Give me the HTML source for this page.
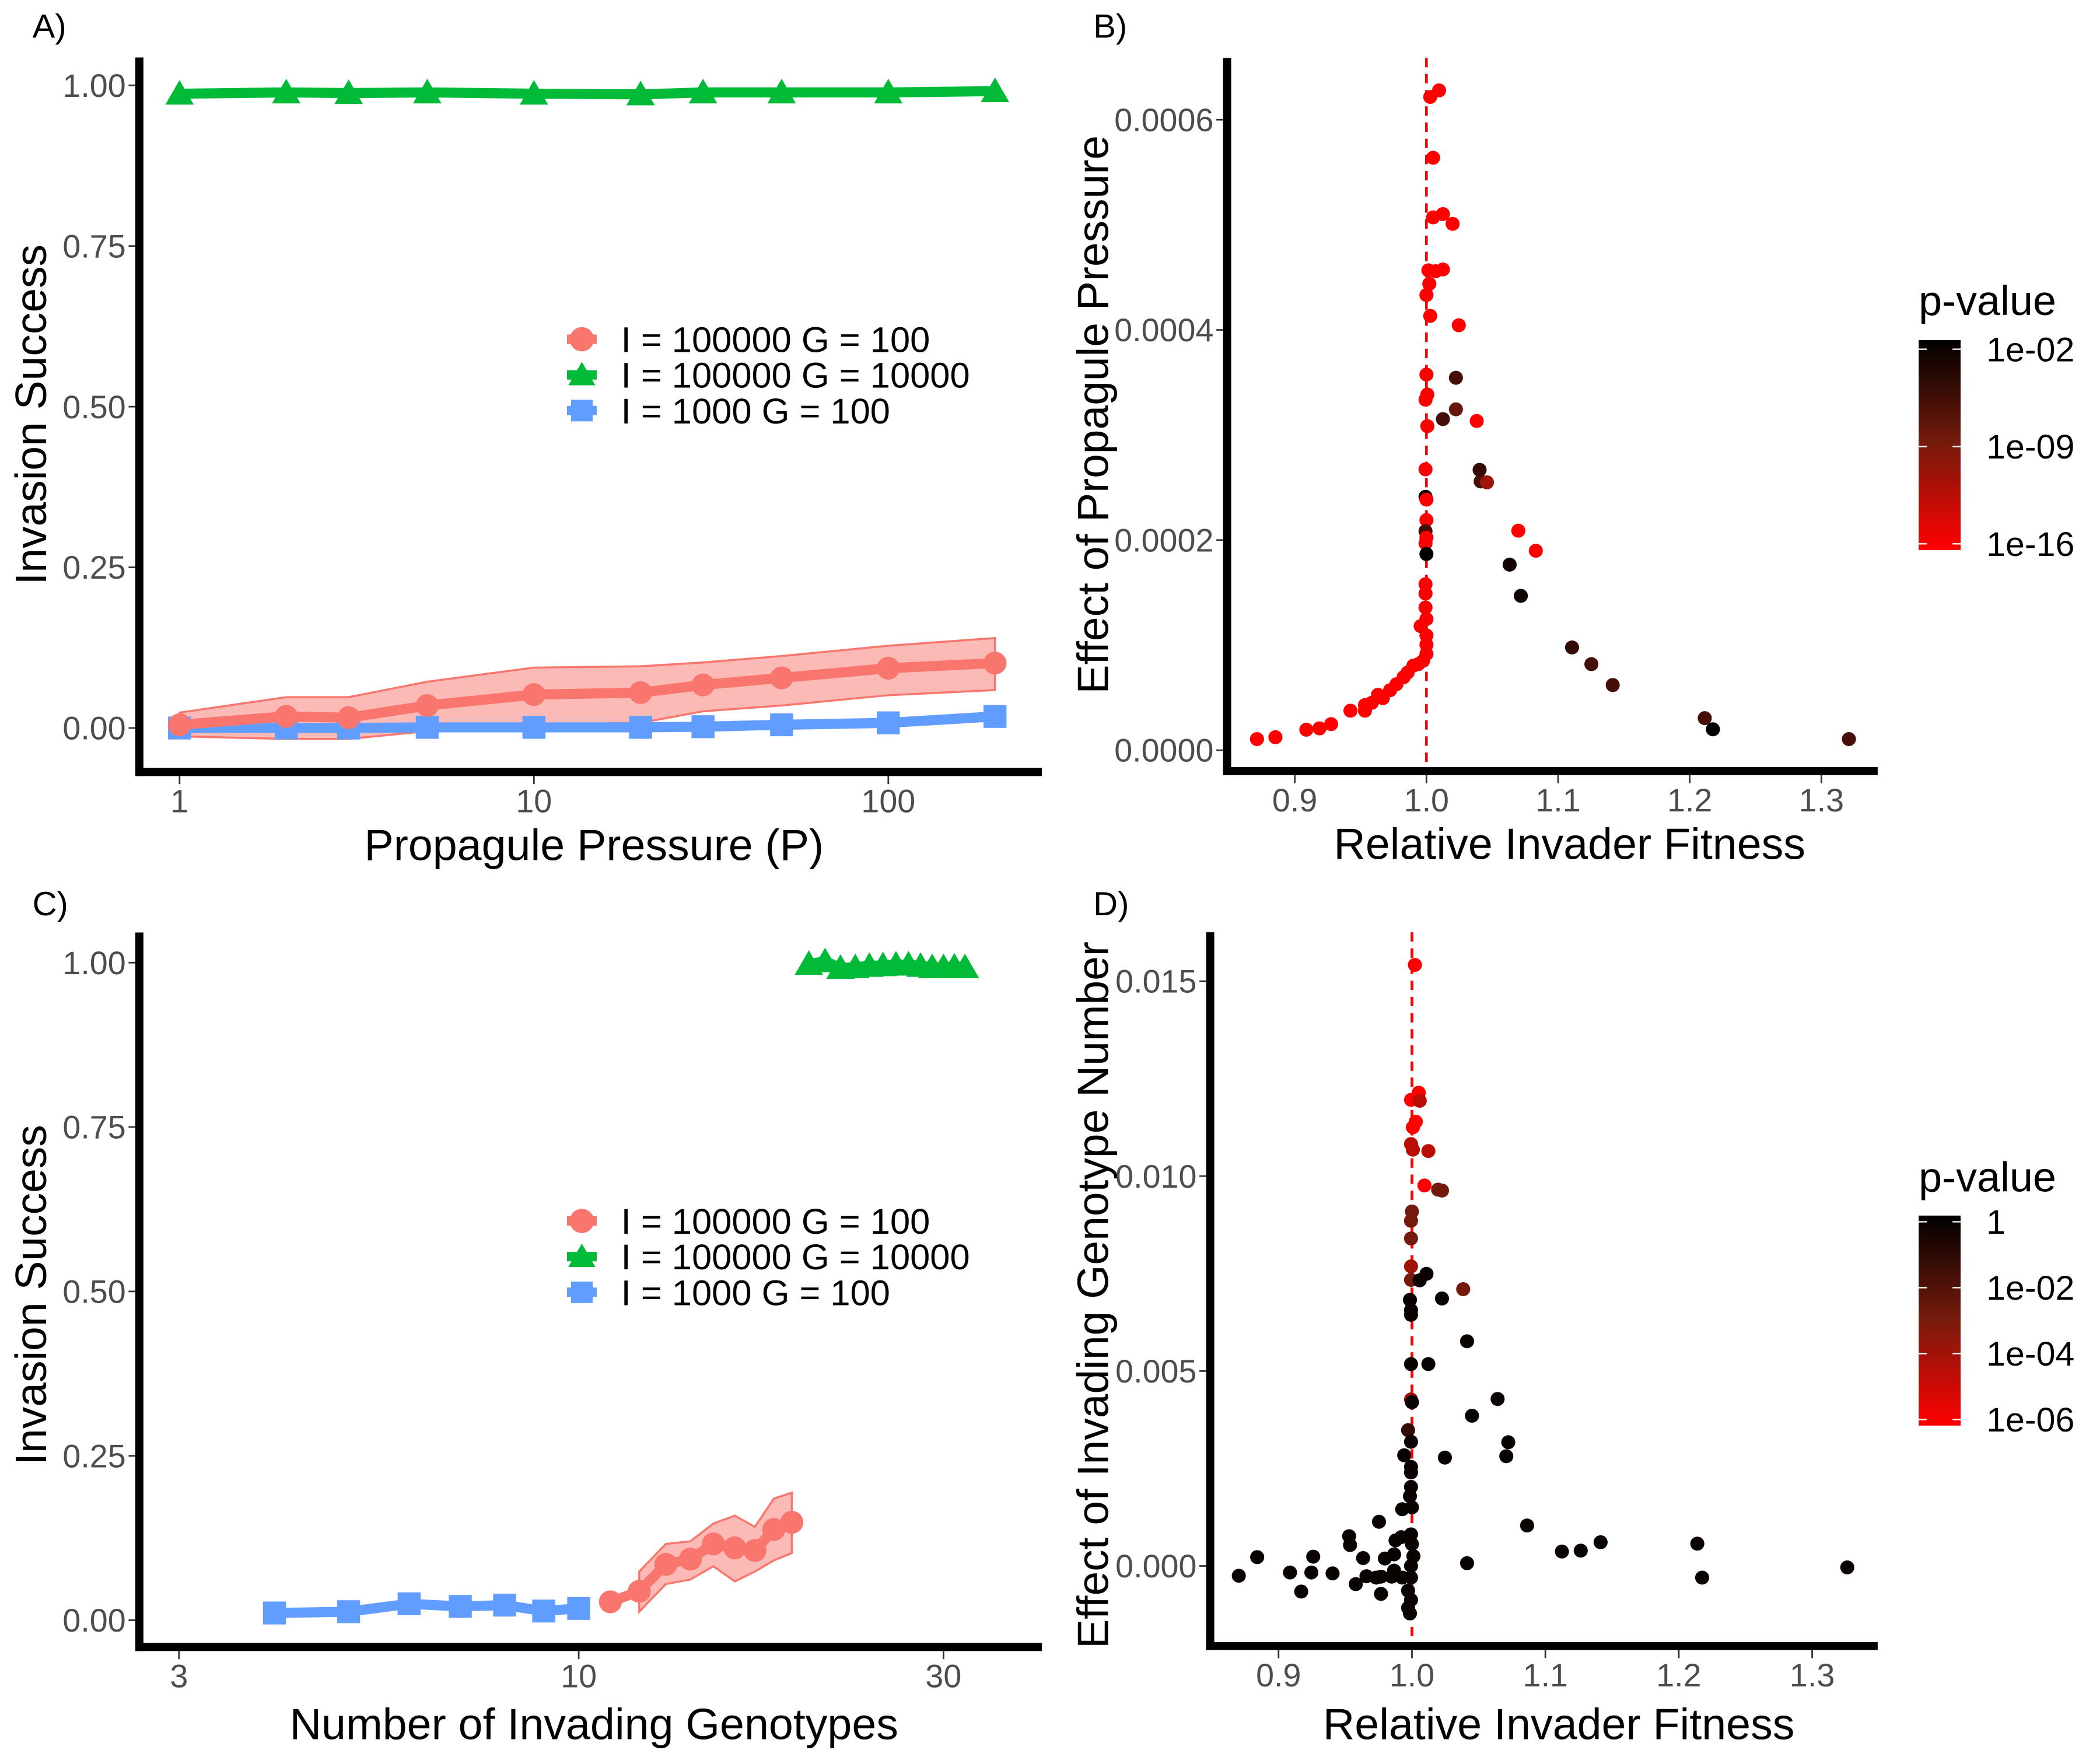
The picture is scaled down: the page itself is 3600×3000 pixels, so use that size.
<!DOCTYPE html>
<html><head><meta charset="utf-8"><title>Invasion success figure</title>
<style>
html,body{margin:0;padding:0;background:#fff;}
svg{display:block;}
text{font-family:"Liberation Sans",Arial,sans-serif;}
</style></head>
<body>
<svg id="fig" xmlns="http://www.w3.org/2000/svg" width="3600" height="3000" viewBox="0 0 1552 1300" preserveAspectRatio="none">
<defs>
<linearGradient id="pgrad" x1="0" y1="0" x2="0" y2="1">
<stop offset="0" stop-color="#000000"/><stop offset="0.5" stop-color="#781b0c"/><stop offset="1" stop-color="#ff0000"/>
</linearGradient>
</defs>
<g id="root"></g>
</svg>
<script>
// ---------- Panel A data ----------
const aP = [1,2,3,5,10,20,30,50,100,200];
const aGreen = [0.987,0.989,0.988,0.989,0.987,0.986,0.989,0.989,0.989,0.991];
const aRed = [0.005,0.018,0.016,0.035,0.052,0.055,0.067,0.078,0.093,0.101];
const aRedHi = [0.024,0.048,0.048,0.072,0.094,0.096,0.102,0.112,0.128,0.140];
const aRedLo = [-0.013,-0.017,-0.017,-0.005,0.005,0.008,0.026,0.035,0.051,0.059];
const aBlue = [0.0,0.0,0.0,0.001,0.001,0.001,0.002,0.005,0.008,0.018];
const aXTicks = [1,10,100];
const successTicks = [0,0.25,0.5,0.75,1];
const successTickLabels = ["0.00","0.25","0.50","0.75","1.00"];
// ---------- Panel C data ----------
const cBlueG = [4,5,6,7,8,9,10];
const cBlue = [0.011,0.013,0.025,0.021,0.023,0.014,0.018];
const cRedG = [11,12,13,14,15,16,17,18,19];
const cRed = [0.028,0.044,0.085,0.093,0.116,0.110,0.106,0.138,0.149];
const cBandG = [12,13,14,15,16,17,18,19];
const cRedHi = [0.074,0.116,0.120,0.147,0.159,0.142,0.185,0.194];
const cRedLo = [0.013,0.055,0.062,0.082,0.059,0.074,0.091,0.102];
const cGreenG = [20,21,22,23,24,25,26,27,28,29,30,31,32];
const cGreen = [0.998,1.002,0.992,0.993,0.995,0.996,0.997,0.997,0.995,0.993,0.993,0.994,0.993];
const cXTicks = [3,10,30];
// ---------- Panel B data (y in units of 1e-4) ----------
const bFit = [1.0029,1.0096,1.0051,1.0051,1.0125,1.0199,1.0015,1.0070,1.0125,1.0022,1.0000,1.0029,1.0246,1.0,1.0224,1.0007,0.9993,1.0224,1.0125,1.0382,1.0007,0.9993,1.0404,1.0412,1.0460,0.9993,1.0,1.0,0.9993,1.0,0.9993,1.0,1.0698,1.0831,1.0632,1.0717,0.9993,0.9993,0.9993,1.0,0.9956,1.0,1.0,1.0,0.9974,0.9938,0.9901,0.9857,0.9827,0.9772,0.9724,0.9669,0.9632,0.9585,0.9533,0.9533,0.9423,0.9276,0.9188,0.9088,0.8853,0.8713,1.1106,1.1253,1.1415,1.2114,1.2176,1.3209];
const bEffect = [6.217,6.279,5.638,5.071,5.102,5.009,4.567,4.558,4.575,4.438,4.332,4.133,4.044,3.575,3.544,3.385,3.336,3.244,3.151,3.133,3.084,2.673,2.668,2.558,2.549,2.412,2.385,2.190,2.084,2.022,1.969,1.867,2.089,1.898,1.766,1.469,1.580,1.491,1.358,1.248,1.181,1.093,1.004,0.916,0.850,0.819,0.805,0.739,0.695,0.628,0.571,0.496,0.527,0.451,0.429,0.376,0.376,0.248,0.208,0.195,0.124,0.106,0.978,0.819,0.620,0.305,0.199,0.106];
const bLogP = [-16,-16,-16,-16,-16,-16,-16,-16,-16,-16,-16,-16,-16,-16,-6,-16,-16,-8,-6,-16,-16,-16,-5,-6,-11,-2,-16,-16,-6,-16,-16,-2,-16,-16,-3,-3,-16,-16,-16,-16,-16,-16,-16,-16,-16,-16,-16,-16,-16,-16,-16,-16,-16,-16,-16,-16,-16,-16,-16,-16,-16,-16,-5,-6,-6,-6,-2,-6];
const bXTicks = [0.9,1.0,1.1,1.2,1.3];
const bYTicks = [0,2,4,6];
const bYTickLabels = ["0.0000","0.0002","0.0004","0.0006"];
const bLegendTicks = [-2,-9,-16];
const bLegendLabels = ["1e-02","1e-09","1e-16"];
// ---------- Panel D data (y in units of 1e-3) ----------
const dFit = [1.0022,1.0051,0.9993,1.0058,1.0029,1.0007,0.9993,1.0007,1.0123,1.0094,1.0196,1.0225,1.0,0.9993,0.9993,0.9993,0.9993,1.0109,1.0058,1.0384,0.9985,1.0225,0.9993,0.9993,1.0413,0.9993,1.0123,0.9993,1.0,1.0642,1.0450,0.9971,0.9993,1.0722,1.0707,1.0247,0.9942,0.9993,0.9993,0.9993,0.9985,0.9927,1.0,0.9753,1.0863,0.9529,0.9536,0.9877,0.9920,0.9993,0.9866,1.0,1.0011,0.9797,0.9634,0.8840,0.9260,0.8702,0.9086,0.9246,0.9405,0.9659,0.9732,0.9768,0.9848,0.9866,0.9927,0.9993,0.9993,0.9579,0.9170,0.9768,0.9971,0.9993,0.9971,0.9985,1.0413,1.1124,1.1265,1.1414,1.2139,1.2175,1.3263];
const dEffect = [15.418,12.14,11.957,11.933,11.396,11.253,10.823,10.680,10.644,9.761,9.654,9.630,9.093,8.854,8.401,7.685,7.339,7.494,7.327,7.100,6.826,6.861,6.563,6.444,5.764,5.179,5.179,4.272,4.200,4.284,3.854,3.484,3.186,3.174,2.816,2.780,2.840,2.542,2.399,2.029,1.790,1.456,1.504,1.134,1.038,0.764,0.537,0.656,0.740,0.811,0.298,0.561,0.251,0.191,0.203,0.227,0.239,-0.251,-0.167,-0.167,-0.191,-0.263,-0.298,-0.274,-0.274,-0.119,-0.298,0,-0.298,-0.465,-0.656,-0.716,-0.632,-0.871,-1.074,-1.217,0.072,0.370,0.394,0.609,0.573,-0.298,-0.036];
const dLogP = [-6,-6,-6,-4.5,-6,-6,-4.5,-4.5,-4.5,-6,-3,-3,-3,-3,-3,-4,-3,-0.5,-0.5,-3,-0.5,-0.5,-0.5,-0.5,-0.5,-0.5,-0.5,-4,-0.5,-0.5,-0.5,-1.5,-0.5,-0.5,-0.5,-0.5,-0.5,-0.5,-0.5,-0.5,-0.5,-0.5,-0.5,-0.5,-0.5,-0.5,-0.5,-0.5,-0.5,-0.5,-0.5,-0.5,-0.5,-0.5,-0.5,-0.5,-0.5,-0.5,-0.5,-0.5,-0.5,-0.5,-0.5,-0.5,-0.5,-0.5,-0.5,-0.5,-0.5,-0.5,-0.5,-0.5,-0.5,-0.5,-0.5,-0.5,-0.5,-0.5,-0.5,-0.5,-0.5,-0.5,-0.5];
const dXTicks = [0.9,1.0,1.1,1.2,1.3];
const dYTicks = [0,5,10,15];
const dYTickLabels = ["0.000","0.005","0.010","0.015"];
const dLegendTicks = [0,-2,-4,-6];
const dLegendLabels = ["1","1e-02","1e-04","1e-06"];
const legendLabels = ["I = 100000 G = 100","I = 100000 G = 10000","I = 1000 G = 100"];

const NS = "http://www.w3.org/2000/svg";
const root = document.getElementById("root");
function mk(tag, attrs, parent){
  const e = document.createElementNS(NS, tag);
  for (const k in attrs) e.setAttribute(k, attrs[k]);
  (parent||root).appendChild(e);
  return e;
}
function txt(s, attrs, parent){ const t = mk("text", attrs, parent); t.textContent = s; return t; }

const RED="#F8766D", GREEN="#00BA38", BLUE="#619CFF";
const TICKFS = 24, TITLEFS = 32.5;
function lerp(a,b,t){return a+(b-a)*t;}
function pcol(t){
  let c;
  if (t<0.5){const u=t/0.5; c=[lerp(0,120,u),lerp(0,27,u),lerp(0,12,u)];}
  else {const u=(t-0.5)/0.5; c=[lerp(120,255,u),lerp(27,0,u),lerp(12,0,u)];}
  return "rgb("+c.map(Math.round).join(",")+")";
}
function circle(g,x,y,r,fill){ return mk("circle",{cx:x,cy:y,r:r,fill:fill},g); }
function square(g,x,y,s,fill){ return mk("rect",{x:x-s/2,y:y-s/2,width:s,height:s,fill:fill},g); }
function tri(g,x,y,s,fill){ const h=s*0.87; return mk("polygon",{points:(x-s/2)+","+(y+h/2)+" "+(x+s/2)+","+(y+h/2)+" "+x+","+(y-h/2),fill:fill},g); }
function polyline(g, xs, ys, color, w){
  return mk("polyline",{points:xs.map((x,i)=>x+","+ys[i]).join(" "),fill:"none",stroke:color,"stroke-width":w,"stroke-linejoin":"round"},g);
}

function axes(g, left, top, bottom, right){
  mk("line",{x1:left,y1:top,x2:left,y2:bottom+3,stroke:"#000","stroke-width":6},g);
  mk("line",{x1:left-3,y1:bottom,x2:right,y2:bottom,stroke:"#000","stroke-width":6},g);
}
function yTicks(g, vals, labels, ys, left, name){
  vals.forEach((v,i)=>{
    const y = ys(v);
    mk("line",{x1:left-8,y1:y,x2:left-3,y2:y,stroke:"#333","stroke-width":1.2},g);
    const t = txt(labels[i],{x:left-10,y:y+8.5,"text-anchor":"end","font-size":TICKFS,fill:"#4d4d4d"},g);
    
    
  });
}
function xTicks(g, vals, labels, xs, bottom, name){
  vals.forEach((v,i)=>{
    const x = xs(v);
    mk("line",{x1:x,y1:bottom+3,x2:x,y2:bottom+9,stroke:"#333","stroke-width":1.2},g);
    const t = txt(labels[i],{x:x,y:bottom+30,"text-anchor":"middle","font-size":TICKFS,fill:"#4d4d4d"},g);
    
    
  });
}
function title(g, s, x, y, rot, name){
  const a = {x:x,y:y,"text-anchor":"middle","font-size":TITLEFS,fill:"#000"};
  if (rot) a.transform = "rotate(-90 "+x+" "+y+")";
  const t = txt(s,a,g);
  
  
}
function legend(g, x, y0){
  const lg = mk("g",{},g);
  
  
  const cols=[RED,GREEN,BLUE];
  legendLabels.forEach((s,i)=>{
    const y=y0+i*26.5;
    const e = mk("g",{},lg);
    
    
    mk("line",{x1:x-11,y1:y,x2:x+11,y2:y,stroke:cols[i],"stroke-width":7},e);
    if(i===0) circle(e,x,y,9,cols[i]);
    if(i===1) tri(e,x,y-1,20,cols[i]);
    if(i===2) square(e,x,y,16,cols[i]);
    txt(s,{x:x+29,y:y+9.5,"font-size":26.5,fill:"#000"},e);
  });
}
function panelLabel(s,x,y){
  const t = txt(s,{x:x,y:y,"font-size":25,fill:"#000"});
  
  
}

// ================= Panel A =================
(function(){
  const g = mk("g",{});  
  const xs = v=>132.7+261.9*Math.log10(v);
  const ys = v=>540.8-477.4*v;
  axes(g,103,42.7,573.5,770);
  yTicks(g,successTicks,successTickLabels,ys,103,"a-y");
  xTicks(g,aXTicks,aXTicks.map(String),xs,573.5,"a-x");
  const band = mk("polygon",{points:aP.map((p,i)=>xs(p)+","+ys(aRedHi[i])).concat(aP.slice().reverse().map((p,j)=>{const i=aP.length-1-j;return xs(p)+","+ys(aRedLo[i]);})).join(" "),fill:"#F8766D","fill-opacity":0.5,stroke:RED,"stroke-width":1.5},g);
  
  const lb = polyline(g,aP.map(xs),aBlue.map(ys),BLUE,7.5); 
  aP.forEach((p,i)=>{ const s=square(g,xs(p),ys(aBlue[i]),17,BLUE);  });
  const lr = polyline(g,aP.map(xs),aRed.map(ys),RED,7.5); 
  aP.forEach((p,i)=>{ const c=circle(g,xs(p),ys(aRed[i]),8.5,RED);  });
  const lgn = polyline(g,aP.map(xs),aGreen.map(ys),GREEN,7.5); 
  aP.forEach((p,i)=>{ const t=tri(g,xs(p),ys(aGreen[i])-1,21,GREEN);  });
  legend(g,430,252);
  title(g,"Propagule Pressure (P)",439,639,false,"x-axis-title");
  title(g,"Invasion Success",34,308,true,"y-axis-title");
})();
panelLabel("A)",24,28);

// ================= Panel C =================
(function(){
  const g = mk("g",{});  
  const xs = v=>427.7+565*(Math.log10(v)-1);
  const ys = v=>1203.6-488.5*v;
  axes(g,103,692.7,1223.5,770);
  yTicks(g,successTicks,successTickLabels,ys,103,"c-y");
  xTicks(g,cXTicks,cXTicks.map(String),xs,1223.5,"c-x");
  const band = mk("polygon",{points:cBandG.map((p,i)=>xs(p)+","+ys(cRedHi[i])).concat(cBandG.slice().reverse().map((p,j)=>{const i=cBandG.length-1-j;return xs(p)+","+ys(cRedLo[i]);})).join(" "),fill:"#F8766D","fill-opacity":0.5,stroke:RED,"stroke-width":1.5},g);
  
  const lb = polyline(g,cBlueG.map(xs),cBlue.map(ys),BLUE,7.5); 
  cBlueG.forEach((p,i)=>{ const s=square(g,xs(p),ys(cBlue[i]),17,BLUE);  });
  const lr = polyline(g,cRedG.map(xs),cRed.map(ys),RED,7.5); 
  cRedG.forEach((p,i)=>{ const c=circle(g,xs(p),ys(cRed[i]),8.5,RED);  });
  const lgn = polyline(g,cGreenG.map(xs),cGreen.map(ys),GREEN,7.5); 
  cGreenG.forEach((p,i)=>{ const t=tri(g,xs(p),ys(cGreen[i])-1,21,GREEN);  });
  legend(g,430,907);
  title(g,"Number of Invading Genotypes",439,1292,false,"x-axis-title");
  title(g,"Invasion Success",34,962,true,"y-axis-title");
})();
panelLabel("C)",24,680);

// ================= Panel B =================
(function(){
  const g = mk("g",{});  
  const xs = v=>1054.2+973*(v-1);
  const ys = v=>557.3-78.06*v;
  axes(g,906.9,43,572.8,1387.7);
  yTicks(g,bYTicks,bYTickLabels,ys,906.9,"b-y");
  xTicks(g,bXTicks,bXTicks.map(v=>v.toFixed(1)),xs,572.8,"b-x");
  const dl = mk("line",{x1:xs(1),y1:43,x2:xs(1),y2:570,stroke:"#ff0000","stroke-width":2,"stroke-dasharray":"7,5"},g);
  
  bFit.forEach((f,i)=>{
    const t = Math.min(1,Math.max(0,(-bLogP[i]-2)/14));
    const c = circle(g,xs(f),ys(bEffect[i]),5.2,pcol(t));
    
  });
  title(g,"Relative Invader Fitness",1160,638,false,"x-axis-title");
  title(g,"Effect of Propagule Pressure",819,308,true,"y-axis-title");
  const lg = mk("g",{},g);  
  txt("p-value",{x:1418,y:234,"font-size":31,fill:"#000"},lg);
  mk("rect",{x:1418,y:252.6,width:31,height:156,fill:"url(#pgrad)"},lg);
  const ly = v=>259.4+(-v-2)/14*144.6;
  bLegendTicks.forEach((v,i)=>{
    mk("line",{x1:1418,y1:ly(v),x2:1424,y2:ly(v),stroke:"#fff","stroke-width":1},lg);
    mk("line",{x1:1443,y1:ly(v),x2:1449,y2:ly(v),stroke:"#fff","stroke-width":1},lg);
    txt(bLegendLabels[i],{x:1468,y:ly(v)+9,"font-size":25.5,fill:"#000"},lg);
  });
})();
panelLabel("B)",808,28);

// ================= Panel D =================
(function(){
  const g = mk("g",{});  
  const xs = v=>1043.5+986*(v-1);
  const ys = v=>1163.3-28.96*v;
  axes(g,894.4,692.5,1222.8,1387.7);
  yTicks(g,dYTicks,dYTickLabels,ys,894.4,"d-y");
  xTicks(g,dXTicks,dXTicks.map(v=>v.toFixed(1)),xs,1222.8,"d-x");
  const dl = mk("line",{x1:xs(1),y1:692.5,x2:xs(1),y2:1220,stroke:"#ff0000","stroke-width":2,"stroke-dasharray":"7,5"},g);
  
  dFit.forEach((f,i)=>{
    const t = Math.min(1,Math.max(0,(-dLogP[i]-0.3)/5.7));
    const c = circle(g,xs(f),ys(dEffect[i]),5.2,pcol(t));
    
  });
  title(g,"Relative Invader Fitness",1152,1292,false,"x-axis-title");
  title(g,"Effect of Invading Genotype Number",819,962,true,"y-axis-title");
  const lg = mk("g",{},g);  
  txt("p-value",{x:1418,y:885,"font-size":31,fill:"#000"},lg);
  mk("rect",{x:1418,y:903,width:31,height:156,fill:"url(#pgrad)"},lg);
  const ly = v=>907.6+(-v)/6*146.9;
  dLegendTicks.forEach((v,i)=>{
    mk("line",{x1:1418,y1:ly(v),x2:1424,y2:ly(v),stroke:"#fff","stroke-width":1},lg);
    mk("line",{x1:1443,y1:ly(v),x2:1449,y2:ly(v),stroke:"#fff","stroke-width":1},lg);
    txt(dLegendLabels[i],{x:1468,y:ly(v)+9,"font-size":25.5,fill:"#000"},lg);
  });
})();
panelLabel("D)",808,680);
</script>
</body></html>
